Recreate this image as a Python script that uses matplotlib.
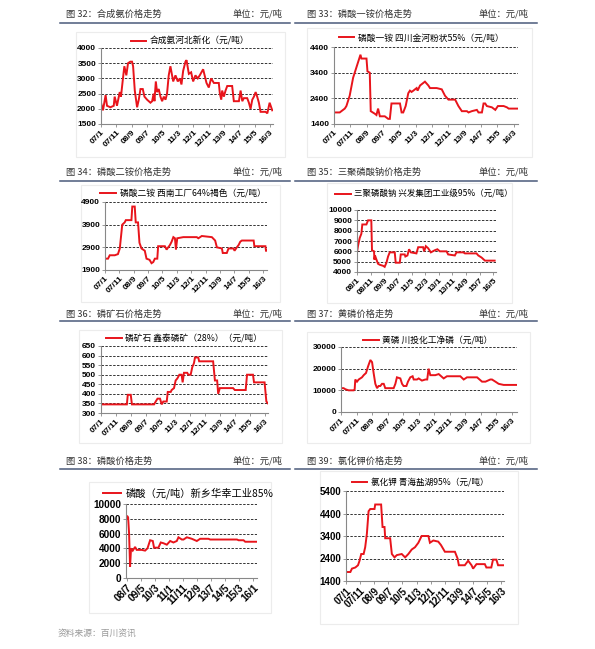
import matplotlib
matplotlib.use("Agg")
import matplotlib.pyplot as plt
from matplotlib.lines import Line2D
from matplotlib.patches import Rectangle

plt.rcParams['font.family'] = ['Noto Sans CJK SC', 'DejaVu Sans']

W, H = 595, 649
RED = '#e8141b'

# ---------------- data ----------------
labels_0701 = ['07/1', '07/11', '08/9', '09/7', '10/5', '11/3', '12/1', '12/11', '13/9', '14/7', '15/5', '16/3']
labels_0801 = ['08/1', '08/11', '09/9', '10/7', '11/5', '12/3', '13/1', '13/11', '14/9', '15/7', '16/5']
labels_0807 = ['08/7', '09/5', '10/3', '11/1', '11/11', '12/9', '13/7', '14/5', '15/3', '16/1']

# 合成氨 河北新化 (month index from 2007/1)
nh3_m = [0, 1.3, 3, 3.9, 6.1, 8.3, 8.9, 10.4, 12.2, 13, 14.3, 15.2, 16.5, 17.6, 19.1, 20.2, 20.9, 22, 23.5, 24.6,
         25.7, 27.2, 28.3, 30, 32.2, 33.3, 34.3, 34.8, 35.7, 36.5, 37.6, 38.7, 39.8, 40.9, 42, 43, 44.1, 45.2, 47,
         48.5, 50, 51.3, 52.4, 53.5, 55, 55.7, 57.2, 58.7, 60, 61.5, 63, 64.3, 66.5, 68.7, 70.2, 71.7, 73.5, 76.7,
         77.4, 78.3, 78.9, 80, 81.1, 82.2, 85.4, 86.5, 89.8, 90.9, 92, 93, 95.2, 96.3, 97.4, 98.5, 99.6, 100.7,
         101.7, 102.8, 103.9, 107.2, 108.3, 109.8, 111.5]
nh3_v = [2200, 1950, 2450, 2100, 2050, 2100, 2400, 2100, 2550, 2400, 3000, 3400, 3100, 3500, 3550, 3550, 3400, 2600,
         2050, 2300, 2650, 2650, 2400, 2300, 2200, 2250, 2500, 2250, 2900, 2550, 2650, 2400, 2250, 2400, 2300, 2500,
         3100, 3400, 2900, 3100, 2900, 3000, 2800, 3250, 3550, 3600, 3150, 3200, 2900, 3100, 3000, 3100, 3300, 2850,
         2700, 3000, 2850, 2850, 2500, 2300, 2600, 2400, 2600, 2750, 2750, 2250, 2250, 2600, 2250, 2350, 2350, 2200,
         2000, 2300, 2400, 2550, 2400, 2200, 1900, 1900, 1850, 2200, 1950]

# 磷酸一铵 四川金河粉状55%
map_m = [0, 3.5, 6.6, 7.6, 8.6, 9.6, 11.7, 13.7, 15.2, 16.2, 16.8, 19.9, 20.5, 21.9, 22.5, 25, 26, 27, 28.1, 31.1,
         33.2, 34.2, 35.2, 40.4, 41.4, 42.4, 43.9, 45.5, 46.5, 47.5, 48.6, 50.6, 51.2, 52.7, 54.7, 55.7, 57.8, 58.8,
         62.9, 66, 68, 70.1, 74.2, 76.2, 78.3, 81.4, 82.4, 84.4, 87.5, 88.5, 90.6, 91.6, 92.6, 93.6, 96.7, 98.8,
         100.4, 103.9, 105.9, 107, 112.7]
map_v = [1850, 1850, 2000, 2100, 2300, 2500, 3200, 3600, 3900, 4100, 3950, 3950, 3450, 3400, 1900, 1800, 1750, 2000,
         1700, 1700, 1600, 1600, 2200, 2200, 1850, 1850, 2100, 2600, 2700, 2650, 2700, 2800, 2700, 2900, 3000, 3050,
         2900, 2800, 2800, 2750, 2500, 2350, 2350, 2100, 1900, 1900, 1850, 1900, 1950, 1850, 1850, 2200, 2200, 2100,
         2050, 1950, 2100, 2100, 2050, 2000, 2000]

# 磷酸二铵 西南工厂64%褐色
dap_m = [0, 2.1, 3.3, 6.8, 9, 10.3, 12, 13.7, 14.5, 18.4, 19, 20.7, 21.4, 23, 24, 25.4, 27.7, 28.9, 31, 32.4, 33.6,
         34.7, 36.4, 37, 41.7, 42.9, 44, 45.2, 46.4, 47.6, 48.7, 49.4, 50.3, 54.5, 63.9, 65, 67.4, 74.4, 76.7, 77.9,
         81.4, 82, 84.8, 86, 89.5, 90.2, 91.8, 93, 94.2, 95.3, 103.5, 104, 111.7, 112.1, 112.8]
dap_v = [2400, 2400, 2550, 2550, 2600, 2850, 3900, 4000, 4100, 4100, 4700, 4700, 4000, 4000, 3100, 2850, 2750, 2400,
         2350, 2200, 2250, 2400, 2400, 2950, 2950, 2800, 2900, 3000, 3150, 3350, 3300, 2800, 3300, 3350, 3350, 3300,
         3400, 3350, 3200, 2900, 2850, 2650, 2650, 2850, 2850, 2750, 2900, 3000, 3150, 3200, 3200, 2950, 2950, 2750,
         2750]

# 三聚磷酸钠 兴发集团工业级95% (month index from 2008/1)
stpp_m = [0, 0.7, 2, 3.2, 3.9, 6.9, 8.1, 10.5, 11, 12.5, 12.8, 13.2, 14, 15.4, 16.7, 19.1, 20.3, 21.6, 22.8, 24,
          27.7, 28.4, 31.4, 32.1, 35, 35.5, 37, 38.2, 39.5, 43.6, 44.9, 48.5, 49.3, 50.5, 52.2, 54.2, 57, 59, 60.8,
          65.7, 66.9, 71.8, 73, 78, 79.2, 87.7, 89, 91.4, 93.9, 101]
stpp_v = [5900, 6500, 7300, 7700, 8600, 8600, 9000, 9000, 6100, 6000, 5200, 5600, 5300, 4800, 4700, 4600, 4500, 4900,
          5500, 5900, 5900, 4900, 4900, 5700, 5700, 5500, 5600, 6200, 5900, 5800, 6400, 6400, 6000, 6500, 6300, 5900,
          6100, 6200, 6000, 6000, 5700, 5600, 5900, 5900, 5800, 5800, 5600, 5400, 5100, 5100]

# 磷矿石 鑫泰磷矿（28%）
rock_m = [0, 17.4, 18, 20, 20.8, 35.7, 36.8, 38, 39.7, 40.8, 41.9, 44.2, 44.9, 46.9, 47.5, 49.1, 50.2, 51.3, 52.7,
          54.2, 54.9, 55.8, 58, 58.7, 60.3, 61.4, 62.5, 63.2, 65.4, 66, 75.4, 76.6, 78.1, 78.8, 79.9, 88.8, 90, 97.3,
          98.2, 102.2, 102.9, 110, 111.2, 112.3]
rock_v = [345, 345, 395, 395, 345, 345, 360, 375, 375, 345, 360, 360, 410, 410, 420, 430, 470, 480, 500, 500, 460,
          510, 510, 500, 500, 540, 560, 590, 590, 570, 570, 470, 470, 400, 430, 430, 420, 420, 500, 500, 460, 460,
          360, 350]

# 黄磷 川投化工净磷
p4_m = [0, 1.7, 2.8, 4.9, 8.2, 8.8, 9.2, 10.3, 11.4, 13.5, 14.6, 16.1, 17.4, 18.9, 20, 21, 22.1, 23.2, 24.2, 25.3,
        26.4, 27.5, 28.5, 33.9, 35, 36, 38.2, 39.3, 40.3, 42.1, 43.1, 44.6, 46.1, 46.8, 48.9, 50, 52.1, 54.3, 55.5,
        56.4, 57.5, 60.7, 62.9, 66.1, 68.2, 76.8, 79, 81.1, 87.6, 90.8, 93, 96.1, 97.2, 99.4, 101.5, 104.7, 113.3]
p4_v = [11000, 11000, 10500, 10000, 10000, 10500, 15000, 14000, 15000, 16000, 17000, 18000, 21000, 24000, 23000,
        18000, 13000, 11000, 12000, 12000, 13000, 13000, 11000, 11000, 13000, 16000, 15500, 13000, 12000, 12000,
        14000, 16000, 16500, 15000, 15000, 15500, 14500, 15000, 15000, 20000, 17000, 17000, 17500, 15500, 16500,
        16500, 15000, 16000, 16000, 14000, 14000, 15000, 15000, 14000, 13000, 12500, 12500]

# 磷酸 新乡华幸工业85% (month index from 2008/7)
h3po4_m = [-0.5, 0.5, 1, 1.7, 2.4, 3.1, 4.3, 6, 7.1, 10.7, 13.1, 14.8, 16.7, 18.6, 19.5, 22.6, 24.3, 26.2, 28.6, 31,
           33.3, 35.7, 36.9, 39.3, 40.5, 42.9, 46.4, 50, 52.4, 58.3, 59.5, 78.6, 79.8, 83.3, 84.5, 92.9]
h3po4_v = [8300, 8000, 8200, 6000, 1500, 4000, 3700, 4200, 3800, 3800, 3700, 4000, 5100, 5000, 4100, 4100, 4800,
           4700, 4500, 5000, 4800, 5000, 5500, 5200, 5200, 5500, 5300, 5000, 5300, 5300, 5200, 5200, 5100, 5100,
           4900, 4900]

# 氯化钾 青海盐湖95%
kcl_m = [0, 3.1, 4.2, 6.6, 8.5, 9.6, 10.8, 12.5, 13.6, 14.8, 16, 17.2, 20.2, 20.7, 24.9, 25.9, 27.3, 27.8, 31.3,
         32.5, 34.4, 36, 39.5, 41.9, 44.2, 46.6, 48.9, 51.3, 53.6, 58.4, 59.5, 61.9, 65.4, 67.3, 70.1, 77.2, 79.1, 80,
         84.2, 86.6, 89, 90.1, 92.5, 98.4, 99.5, 103, 104.2, 106.6, 107.8, 112]
kcl_v = [1800, 1800, 1950, 2000, 2100, 2300, 2600, 2600, 2900, 3500, 4500, 4600, 4600, 4800, 4800, 3800, 3800, 3300,
         3300, 2600, 2450, 2550, 2600, 2450, 2600, 2800, 2900, 3100, 3400, 3400, 3100, 3200, 3150, 3000, 2700, 2700,
         2400, 2100, 2100, 2300, 2100, 1950, 2150, 2150, 2000, 2000, 2350, 2350, 2100, 2100]

# ---------------- layout ----------------
fig = plt.figure(figsize=(W / 100, H / 100), dpi=100)
fig.patch.set_facecolor('white')


def fx(px):
    return px / W


def fy(py):
    return 1 - py / H


def header(x0, x1, tx, ux, ty, ly, title):
    fig.text(fx(tx), fy(ty), title, fontsize=6.7, color='#333333', va='center', ha='left')
    fig.text(fx(ux), fy(ty), '单位：元/吨', fontsize=6.7, color='#333333', va='center', ha='right')
    fig.add_artist(Line2D([fx(x0), fx(x1)], [fy(ly), fy(ly)], color='#4a5a7a', lw=1.1))


def box(x0, x1, y0, y1):
    fig.add_artist(Rectangle((fx(x0), fy(y1)), fx(x1 - x0), (y1 - y0) / H, facecolor='white',
                             edgecolor='#ececec', lw=0.8, zorder=0))


def panel(rect, xs, ys, xlim, yticks, xlabels, xstep, legend_txt, leg_xy, tick_fs=6.0, leg_fs=6.3,
          handlelen=1.8, marker_first=False):
    x0, x1, y0, y1 = rect
    ax = fig.add_axes([fx(x0), fy(y1), fx(x1 - x0), (y1 - y0) / H])
    ax.set_facecolor('none')
    ln, = ax.plot(xs, ys, color=RED, lw=1.4, label=legend_txt, solid_joinstyle='miter')
    if marker_first:
        ax.plot(xs[:1], ys[:1], 'o', color=RED, ms=2.5)
    ax.set_xlim(*xlim)
    ax.set_ylim(yticks[0], yticks[-1])
    ax.set_yticks(yticks)
    ax.set_yticklabels([str(t) for t in yticks], fontsize=tick_fs, fontweight='bold',
                       family=['Liberation Sans', 'DejaVu Sans'])
    for t in yticks[1:]:
        ax.axhline(t, color='#333333', lw=0.7, ls=(0, (2.5, 1.5)), zorder=1)
    ax.set_xticks([i * xstep for i in range(len(xlabels))])
    ax.set_xticklabels(xlabels, rotation=45, ha='right', rotation_mode='anchor', fontsize=tick_fs,
                       fontweight='bold', family=['Liberation Sans', 'DejaVu Sans'])
    for s in ['top', 'right']:
        ax.spines[s].set_visible(False)
    for s in ['left', 'bottom']:
        ax.spines[s].set_color('#888888')
        ax.spines[s].set_linewidth(0.8)
    ax.tick_params(axis='both', length=2, width=0.6, color='#888888', pad=1.5)
    ax.grid(False)
    ax.legend(handles=[ln], loc='center', bbox_to_anchor=(fx(leg_xy[0]), fy(leg_xy[1])),
              bbox_transform=fig.transFigure, frameon=False, fontsize=leg_fs, handlelength=handlelen,
              handletextpad=0.4, borderpad=0, borderaxespad=0)
    return ax


# Row 1
header(60, 290, 66, 282, 14, 23, '图 32：合成氨价格走势')
header(295, 537, 307, 528, 14, 23, '图 33：磷酸一铵价格走势')
box(76, 285, 32, 157)
box(307, 532, 28, 157)
panel((101, 273, 48, 124), nh3_m, nh3_v, (0, 112), [1500, 2000, 2500, 3000, 3500, 4000], labels_0701, 10,
      '合成氨河北新化（元/吨）', (190, 41))
panel((334, 518, 47, 124), map_m, map_v, (0, 112.7), [1400, 2400, 3400, 4400], labels_0701, 10,
      '磷酸一铵 四川金河粉状55%（元/吨）', (421, 38))

# Row 2
header(60, 290, 66, 282, 172, 181, '图 34：磷酸二铵价格走势')
header(295, 537, 307, 528, 172, 181, '图 35：三聚磷酸钠价格走势')
box(81, 280, 185, 302)
box(327, 512, 183, 303)
panel((105, 267, 202, 270), dap_m, dap_v, (0, 112.8), [1900, 2900, 3900, 4900], labels_0701, 10,
      '磷酸二铵 西南工厂64%褐色（元/吨）', (183, 194))
panel((357, 496, 210, 272), stpp_m, stpp_v, (0, 102), [4000, 5000, 6000, 7000, 8000, 9000, 10000],
      labels_0801, 10, '三聚磷酸钠 兴发集团工业级95%（元/吨）', (424, 194), leg_fs=6.1)

# Row 3
header(60, 290, 66, 282, 314, 321, '图 36：磷矿石价格走势')
header(295, 537, 307, 528, 314, 321, '图 37：黄磷价格走势')
box(79, 282, 330, 443)
box(307, 530, 332, 443)
panel((101, 268, 346, 413), rock_m, rock_v, (0, 112.3), [300, 350, 400, 450, 500, 550, 600, 650], labels_0701,
      10, '磷矿石 鑫泰磷矿（28%）（元/吨）', (184, 339))
panel((341, 517, 347, 412), p4_m, p4_v, (0, 113.3), [0, 10000, 20000, 30000], labels_0701, 10,
      '黄磷 川投化工净磷（元/吨）', (428, 341))

# Row 4
header(60, 290, 66, 282, 461, 469, '图 38：磷酸价格走势')
header(295, 537, 307, 528, 461, 469, '图 39：氯化钾价格走势')
box(89, 271, 482, 613)
box(320, 518, 471, 624)
panel((126, 257, 504, 578), h3po4_m, h3po4_v, (-0.5, 92.9), [0, 2000, 4000, 6000, 8000, 10000], labels_0807,
      10, '磷酸（元/吨）新乡华幸工业85%', (188, 493), tick_fs=7.2, leg_fs=7.4, marker_first=True)
panel((346, 504, 491, 581), kcl_m, kcl_v, (0, 112), [1400, 2400, 3400, 4400, 5400], labels_0701, 10,
      '氯化钾 青海盐湖95%（元/吨）', (420, 483), tick_fs=7.0, leg_fs=6.2)

fig.text(fx(58), fy(633), '资料来源：百川资讯', fontsize=6.3, color='#999999', va='center', ha='left',
         style='italic')

fig.savefig('out.png', dpi=100, facecolor='white')
